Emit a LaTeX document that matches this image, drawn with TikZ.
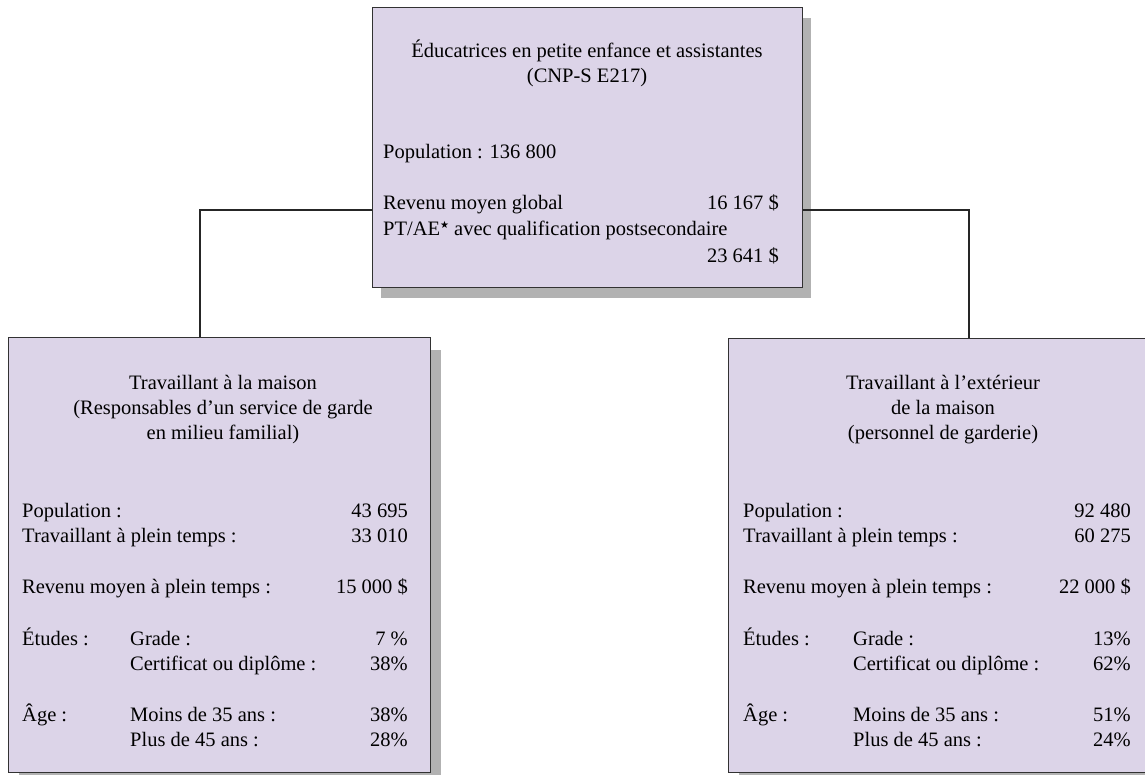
\documentclass[tikz,border=0pt]{standalone}
\usepackage{fontspec}
\setmainfont{Liberation Serif}
\newfontfamily\symfont{DejaVu Sans}
\usetikzlibrary{shadows}
\definecolor{boxfill}{RGB}{220,212,232}
\definecolor{boxline}{RGB}{50,50,50}
\definecolor{shadowgray}{RGB}{178,178,178}
\begin{document}
\begin{tikzpicture}[x=1pt,y=-1pt,
  box/.style={draw=boxline, line width=1.3pt, fill=boxfill, anchor=north west, inner sep=0pt},
  txt/.style={inner sep=0pt, font=\fontsize{20.5}{25}\selectfont},
  tl/.style={txt, anchor=base west},
  tr/.style={txt, anchor=base east},
  tc/.style={txt, anchor=base},
  conn/.style={draw=black!85, line width=2pt}]
\useasboundingbox (0,0) rectangle (1145,774);
\clip (0,0) rectangle (1145,774);
% boxes
\node[box, minimum width=430pt, minimum height=280pt,
  drop shadow={shadow xshift=8pt, shadow yshift=-10pt, fill=shadowgray, opacity=1}] (top) at (372,7) {};
\node[box, minimum width=422pt, minimum height=435pt,
  drop shadow={shadow xshift=10pt, shadow yshift=-12pt, fill=shadowgray, opacity=1}] (left) at (8,337) {};
\node[box, minimum width=440pt, minimum height=434pt,
  drop shadow={shadow xshift=10pt, shadow yshift=-12pt, fill=shadowgray, opacity=1}] (right) at (728,338) {};
% connectors
\coordinate (jl) at (200,210);
\coordinate (jr) at (969,210);
\draw[conn] (top.west |- jl) -| (left.north -| jl);
\draw[conn] (top.east |- jr) -| (right.north -| jr);
% top box text
\node[tc] (a1) at (587,57) {Éducatrices en petite enfance et assistantes};
\node[tc] (a2) at (587,82) {(CNP-S E217)};
\node[tl] (a3) at (383,158) {Population : 136 800};
\node[tl] (a4) at (383,209) {Revenu moyen global};
\node[tr] (a5) at (779,209) {16 167 \$};
\node[tl] (a6) at (383,235) {PT/AE{\symfont\raisebox{0.55ex}{\fontsize{10}{10}\selectfont ★}} avec qualification postsecondaire};
\node[tr] (a7) at (779,262) {23 641 \$};
% left box text
\node[tc] (b1) at (223,389) {Travaillant à la maison};
\node[tc] (b2) at (223,414) {(Responsables d’un service de garde};
\node[tc] (b3) at (223,439) {en milieu familial)};
\node[tl] (b4) at (22,517) {Population :};
\node[tr] (b5) at (408,517) {43 695};
\node[tl] (b6) at (22,542) {Travaillant à plein temps :};
\node[tr] (b7) at (408,542) {33 010};
\node[tl] (b8) at (22,593) {Revenu moyen à plein temps :};
\node[tr] (b9) at (408,593) {15 000 \$};
\node[tl] (b10) at (22,645) {Études :};
\node[tl] (b11) at (130,645) {Grade :};
\node[tr] (b12) at (408,645) {7 \%};
\node[tl] (b13) at (130,670) {Certificat ou diplôme :};
\node[tr] (b14) at (408,670) {38\%};
\node[tl] (b15) at (22,721) {Âge :};
\node[tl] (b16) at (130,721) {Moins de 35 ans :};
\node[tr] (b17) at (408,721) {38\%};
\node[tl] (b18) at (130,746) {Plus de 45 ans :};
\node[tr] (b19) at (408,746) {28\%};
% right box text
\node[tc] (c1) at (943,389) {Travaillant à l’extérieur};
\node[tc] (c2) at (943,414) {de la maison};
\node[tc] (c3) at (943,439) {(personnel de garderie)};
\node[tl] (c4) at (743,517) {Population :};
\node[tr] (c5) at (1131,517) {92 480};
\node[tl] (c6) at (743,542) {Travaillant à plein temps :};
\node[tr] (c7) at (1131,542) {60 275};
\node[tl] (c8) at (743,593) {Revenu moyen à plein temps :};
\node[tr] (c9) at (1131,593) {22 000 \$};
\node[tl] (c10) at (743,645) {Études :};
\node[tl] (c11) at (853,645) {Grade :};
\node[tr] (c12) at (1131,645) {13\%};
\node[tl] (c13) at (853,670) {Certificat ou diplôme :};
\node[tr] (c14) at (1131,670) {62\%};
\node[tl] (c15) at (743,721) {Âge :};
\node[tl] (c16) at (853,721) {Moins de 35 ans :};
\node[tr] (c17) at (1131,721) {51\%};
\node[tl] (c18) at (853,746) {Plus de 45 ans :};
\node[tr] (c19) at (1131,746) {24\%};
\end{tikzpicture}
\end{document}
